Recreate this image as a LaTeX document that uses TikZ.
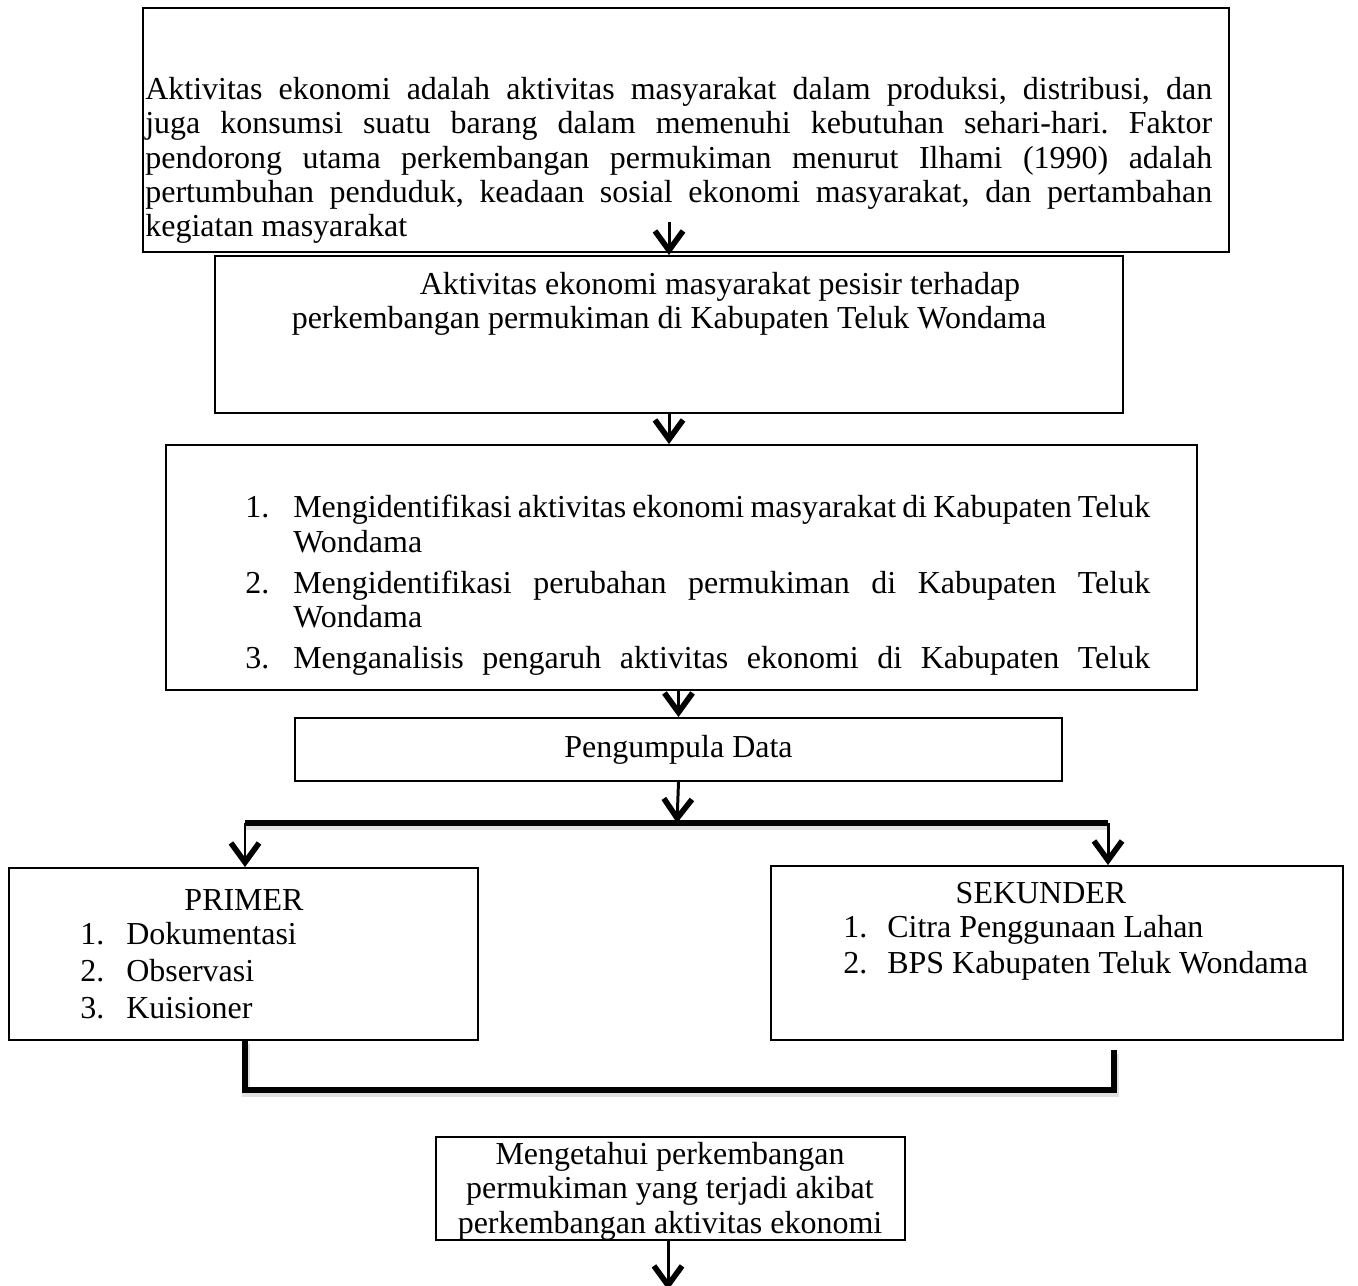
\documentclass[tikz,border=0pt]{standalone}
\usepackage{fontspec}
\setmainfont{Liberation Serif}
\usetikzlibrary{arrows.meta}
\tolerance=10000
\hbadness=10000
\frenchspacing

\begin{document}
\begin{tikzpicture}[x=0.02cm,y=-0.02cm,
		every node/.style={font=\fontsize{18.2}{19.5}\selectfont},
		kotak/.style={draw,line width=1.1pt,inner sep=0pt},
		teks/.style={inner sep=0pt,align=left},
		panah/.style={line width=1.7pt,-{Straight Barb[length=11pt,width=16pt,line width=3.2pt]}},
		garis/.style={line width=2.9pt,line join=miter,
			preaction={draw=black!12,line width=4.5pt,transform canvas={xshift=0.8pt,yshift=-2pt}}}
	]

	\clip (0,0) rectangle (1358,1285);

	% Background box
	\node[kotak,minimum width=21.72cm,minimum height=4.88cm] (latar) at (686,130) {};
	\node[teks,anchor=north west,text width=21.34cm,align=justify] (latarteks) at (145,77) {%
		Aktivitas ekonomi adalah aktivitas masyarakat dalam produksi, distribusi, dan\linebreak
		juga konsumsi suatu barang dalam memenuhi kebutuhan sehari-hari. Faktor\linebreak
		pendorong utama perkembangan permukiman menurut Ilhami (1990) adalah\linebreak
		pertumbuhan penduduk, keadaan sosial ekonomi masyarakat, dan pertambahan\linebreak
		kegiatan masyarakat};

	% Title box
	\node[kotak,minimum width=18.16cm,minimum height=3.14cm] (judul) at (669,334.5) {};
	\node[teks,anchor=north,align=center] (judulteks) at (669,272) {%
		\hspace*{2.04cm}Aktivitas ekonomi masyarakat pesisir terhadap\\
		perkembangan permukiman di Kabupaten Teluk Wondama};

	% Objectives
	\node[kotak,minimum width=20.62cm,minimum height=4.90cm] (tujuan) at (681.5,567.5) {};
	\node[teks,anchor=north west,text width=18.1cm,align=justify] (tujuanteks) at (245,495) {%
		\setlength{\parskip}{4pt}%
		\hangindent=0.96cm\hangafter=1\noindent\makebox[0.96cm][l]{1.}Mengidentifikasi aktivitas ekonomi masyarakat di Kabupaten Teluk\linebreak Wondama\par
		\hangindent=0.96cm\hangafter=1\noindent\makebox[0.96cm][l]{2.}Mengidentifikasi perubahan permukiman di Kabupaten Teluk\linebreak Wondama\par
		{\parfillskip=0pt\hangindent=0.96cm\hangafter=1\noindent\makebox[0.96cm][l]{3.}Menganalisis pengaruh aktivitas ekonomi di Kabupaten Teluk\par}};

	% Data collection
	\node[kotak,minimum width=15.34cm,minimum height=1.26cm] (data) at (678.5,749.5) {Pengumpula Data};

	% Primary and secondary data
	\node[kotak,minimum width=9.38cm,minimum height=3.44cm] (primer) at (243.5,954) {};
	\node (primerjudul) at (244,900) {PRIMER};
	\node[teks,anchor=north west] (primerteks) at (80,922) {%
		\makebox[0.92cm][l]{1.}Dokumentasi\\[1.5pt]
		\makebox[0.92cm][l]{2.}Observasi\\[1.5pt]
		\makebox[0.92cm][l]{3.}Kuisioner};

	\node[kotak,minimum width=11.44cm,minimum height=3.48cm] (sekunder) at (1057,953) {};
	\node (sekunderjudul) at (1041,893) {SEKUNDER};
	\node[teks,anchor=north west] (sekunderteks) at (843,915) {%
		\makebox[0.88cm][l]{1.}Citra Penggunaan Lahan\\[1pt]
		\makebox[0.88cm][l]{2.}BPS Kabupaten Teluk Wondama};

	% Result
	\node[kotak,minimum width=9.38cm,minimum height=2.06cm] (hasil) at (670.5,1188.5) {};
	\node[teks,anchor=north,align=center] (hasilteks) at (670,1142) {%
		Mengetahui perkembangan\\
		permukiman yang terjadi akibat\\
		perkembangan aktivitas ekonomi};

	% Connectors
	\coordinate (a1) at (669,222);
	\coordinate (cabang) at (677,823);
	\coordinate (kiri) at (245,823);
	\coordinate (kanan) at (1108,823);
	\coordinate (bawahkiri) at (245,1090);
	\coordinate (bawahkanan) at (1114,1090);
	\coordinate (ujungkanan) at (1114,1050);
	\coordinate (keluar) at (668,1290);

	\draw[panah] (a1) -- (judul.north);
	\draw[panah] (judul.south) -- (judul.south |- tujuan.north);
	\draw[panah] (tujuan.south -| data.north) -- (data.north);
	\draw[panah] (data.south) -- (cabang);
	\draw[garis] (kiri) -- (kanan);
	\draw[panah] (kiri) -- (kiri |- primer.north);
	\draw[panah] (kanan) -- (kanan |- sekunder.north);
	\draw[garis] (primer.south -| kiri) -- (bawahkiri) -- (bawahkanan) -- (ujungkanan);
	\draw[panah] (hasil.south -| keluar) -- (keluar);

\end{tikzpicture}
\end{document}
